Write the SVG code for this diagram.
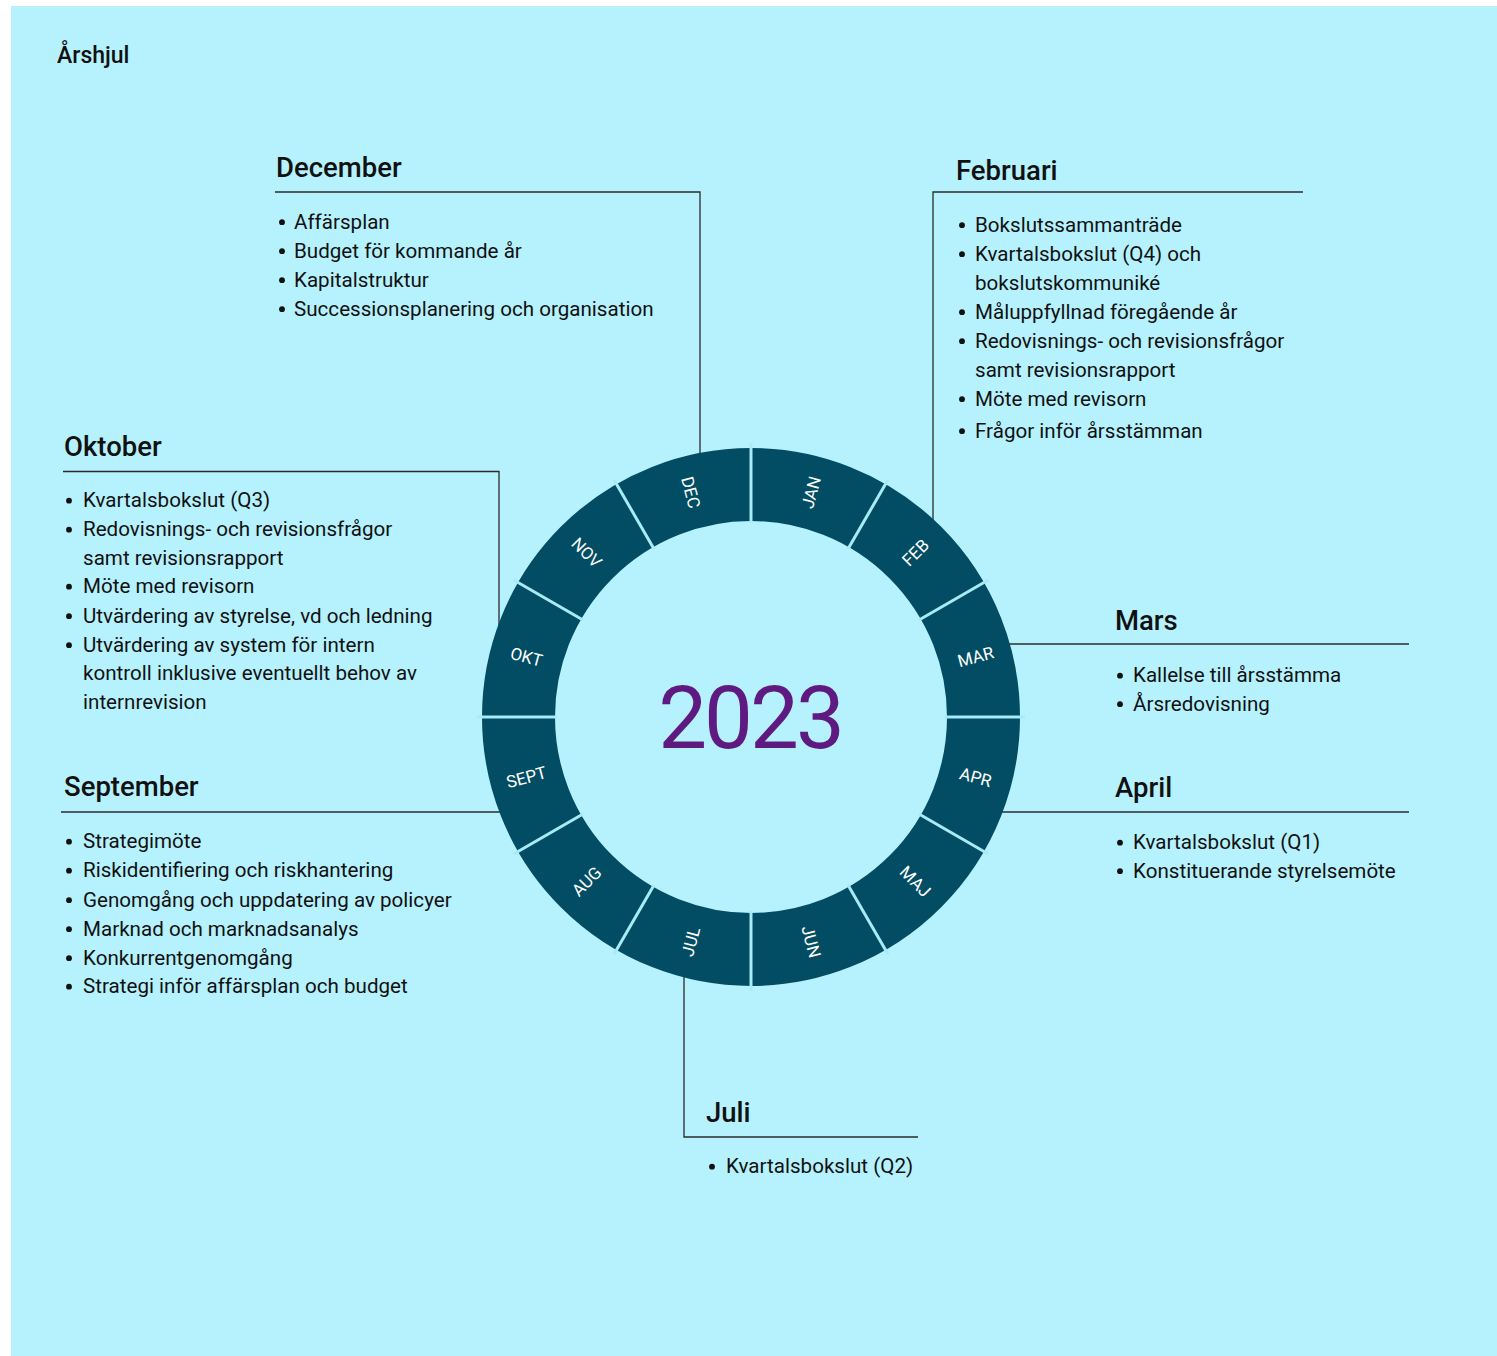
<svg xmlns="http://www.w3.org/2000/svg" width="1497" height="1356" viewBox="0 0 1497 1356">
<style>
text{font-family:Roboto,"Liberation Sans",sans-serif;fill:#111}
.ti{font-size:23px;font-weight:500}
.h{font-size:27.5px;font-weight:500}
.b{font-size:20.6px}
.m{font-size:17px;fill:#fff;text-anchor:middle;dominant-baseline:central}
.yr{font-size:87px;fill:#5f1a82;text-anchor:middle;letter-spacing:-3px}
.ln{stroke:#2b2b2b;stroke-width:1.3;fill:none}
.sep{stroke:#a9eaf7;stroke-width:3}
.dot{fill:#111}
</style>
<defs><circle id="bl" r="2.9" class="dot"/></defs>
<rect x="11" y="6" width="1486" height="1350" fill="#b6f1fe"/>
<text class="ti" x="57" y="63">Årshjul</text>

<g id="connectors">
<path class="ln" d="M275 192 H700 V456"/>
<path class="ln" d="M1303 192 H933 V522"/>
<path class="ln" d="M63 471.5 H499 V626"/>
<path class="ln" d="M61 812 H502"/>
<path class="ln" d="M1007 644 H1409"/>
<path class="ln" d="M1000 812 H1409"/>
<path class="ln" d="M684 974 V1137 H918"/>
</g>

<g id="wheel">
<circle cx="751" cy="717" r="232.5" fill="none" stroke="#024d63" stroke-width="73"/>
<g class="sep">
<line x1="751" y1="443" x2="751" y2="523"/>
<line x1="751" y1="443" x2="751" y2="523" transform="rotate(30 751 717)"/>
<line x1="751" y1="443" x2="751" y2="523" transform="rotate(60 751 717)"/>
<line x1="751" y1="443" x2="751" y2="523" transform="rotate(90 751 717)"/>
<line x1="751" y1="443" x2="751" y2="523" transform="rotate(120 751 717)"/>
<line x1="751" y1="443" x2="751" y2="523" transform="rotate(150 751 717)"/>
<line x1="751" y1="443" x2="751" y2="523" transform="rotate(180 751 717)"/>
<line x1="751" y1="443" x2="751" y2="523" transform="rotate(210 751 717)"/>
<line x1="751" y1="443" x2="751" y2="523" transform="rotate(240 751 717)"/>
<line x1="751" y1="443" x2="751" y2="523" transform="rotate(270 751 717)"/>
<line x1="751" y1="443" x2="751" y2="523" transform="rotate(300 751 717)"/>
<line x1="751" y1="443" x2="751" y2="523" transform="rotate(330 751 717)"/>
</g>
<text class="m" transform="translate(811.2 492.4) rotate(-75)">JAN</text>
<text class="m" transform="translate(915.4 552.6) rotate(-45)">FEB</text>
<text class="m" transform="translate(975.6 656.8) rotate(-15)">MAR</text>
<text class="m" transform="translate(975.6 777.2) rotate(15)">APR</text>
<text class="m" transform="translate(915.4 881.4) rotate(45)">MAJ</text>
<text class="m" transform="translate(811.2 941.6) rotate(75)">JUN</text>
<text class="m" transform="translate(690.8 941.6) rotate(-75)">JUL</text>
<text class="m" transform="translate(586.6 881.4) rotate(-45)">AUG</text>
<text class="m" transform="translate(526.4 777.2) rotate(-15)">SEPT</text>
<text class="m" transform="translate(526.4 656.8) rotate(15)">OKT</text>
<text class="m" transform="translate(586.6 552.6) rotate(45)">NOV</text>
<text class="m" transform="translate(690.8 492.4) rotate(75)">DEC</text>
<text class="yr" x="750" y="748">2023</text>
</g>

<g id="december">
<text class="h" x="276" y="177">December</text>
<use href="#bl" x="282" y="222.2"/><text class="b" x="294" y="228.5">Affärsplan</text>
<use href="#bl" x="282" y="251.2"/><text class="b" x="294" y="257.5">Budget för kommande år</text>
<use href="#bl" x="282" y="280.2"/><text class="b" x="294" y="286.5">Kapitalstruktur</text>
<use href="#bl" x="282" y="309.2"/><text class="b" x="294" y="315.5">Successionsplanering och organisation</text>
</g>

<g id="februari">
<text class="h" x="956" y="180">Februari</text>
<use href="#bl" x="962" y="225.2"/><text class="b" x="975" y="231.5">Bokslutssammanträde</text>
<use href="#bl" x="962" y="254.2"/><text class="b" x="975" y="260.5">Kvartalsbokslut (Q4) och</text>
<text class="b" x="975" y="289.5">bokslutskommuniké</text>
<use href="#bl" x="962" y="312.2"/><text class="b" x="975" y="318.5">Måluppfyllnad föregående år</text>
<use href="#bl" x="962" y="341.2"/><text class="b" x="975" y="347.5">Redovisnings- och revisionsfrågor</text>
<text class="b" x="975" y="376.5">samt revisionsrapport</text>
<use href="#bl" x="962" y="399.2"/><text class="b" x="975" y="405.5">Möte med revisorn</text>
<use href="#bl" x="962" y="431.2"/><text class="b" x="975" y="437.5">Frågor inför årsstämman</text>
</g>

<g id="oktober">
<text class="h" x="64" y="456">Oktober</text>
<use href="#bl" x="69" y="500.7"/><text class="b" x="83" y="507">Kvartalsbokslut (Q3)</text>
<use href="#bl" x="69" y="529.7"/><text class="b" x="83" y="536">Redovisnings- och revisionsfrågor</text>
<text class="b" x="83" y="564.5">samt revisionsrapport</text>
<use href="#bl" x="69" y="586.7"/><text class="b" x="83" y="593">Möte med revisorn</text>
<use href="#bl" x="69" y="616.2"/><text class="b" x="83" y="622.5">Utvärdering av styrelse, vd och ledning</text>
<use href="#bl" x="69" y="645.2"/><text class="b" x="83" y="651.5">Utvärdering av system för intern</text>
<text class="b" x="83" y="680">kontroll inklusive eventuellt behov av</text>
<text class="b" x="83" y="709">internrevision</text>
</g>

<g id="september">
<text class="h" x="64" y="796">September</text>
<use href="#bl" x="69" y="841.7"/><text class="b" x="83" y="848">Strategimöte</text>
<use href="#bl" x="69" y="870.7"/><text class="b" x="83" y="877">Riskidentifiering och riskhantering</text>
<use href="#bl" x="69" y="900.2"/><text class="b" x="83" y="906.5">Genomgång och uppdatering av policyer</text>
<use href="#bl" x="69" y="929.2"/><text class="b" x="83" y="935.5">Marknad och marknadsanalys</text>
<use href="#bl" x="69" y="958.2"/><text class="b" x="83" y="964.5">Konkurrentgenomgång</text>
<use href="#bl" x="69" y="986.7"/><text class="b" x="83" y="993">Strategi inför affärsplan och budget</text>
</g>

<g id="mars">
<text class="h" x="1115" y="630">Mars</text>
<use href="#bl" x="1120" y="675.7"/><text class="b" x="1133" y="682">Kallelse till årsstämma</text>
<use href="#bl" x="1120" y="704.2"/><text class="b" x="1133" y="710.5">Årsredovisning</text>
</g>

<g id="april">
<text class="h" x="1115" y="797">April</text>
<use href="#bl" x="1120" y="842.7"/><text class="b" x="1133" y="849">Kvartalsbokslut (Q1)</text>
<use href="#bl" x="1120" y="871.2"/><text class="b" x="1133" y="877.5">Konstituerande styrelsemöte</text>
</g>

<g id="juli">
<text class="h" x="706" y="1122">Juli</text>
<use href="#bl" x="712" y="1166.7"/><text class="b" x="726" y="1173">Kvartalsbokslut (Q2)</text>
</g>
</svg>
